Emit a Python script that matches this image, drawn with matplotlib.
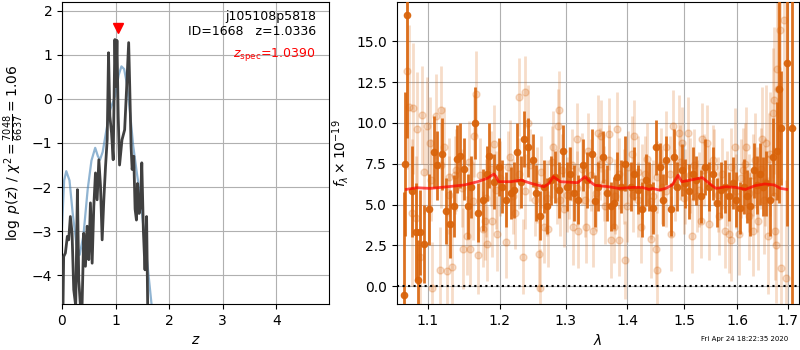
import matplotlib
matplotlib.use("Agg")
import matplotlib.pyplot as plt
from matplotlib.ticker import NullLocator, NullFormatter

# --- p(z) panel ---
z_pz = [0.019, 0.031, 0.063, 0.100, 0.125, 0.156, 0.188, 0.219, 0.256, 0.288, 0.313, 0.344,
        0.375, 0.406, 0.438, 0.469, 0.500, 0.531, 0.563, 0.594, 0.625, 0.656, 0.688, 0.719,
        0.750, 0.781, 0.813, 0.844, 0.869, 0.894, 0.925, 0.956, 0.988, 1.006, 1.026, 1.050,
        1.075, 1.120, 1.170, 1.205, 1.245, 1.265, 1.290, 1.310, 1.340, 1.365, 1.390, 1.410,
        1.440, 1.465, 1.490, 1.520, 1.550, 1.580, 1.600]
logp = [-4.70, -3.58, -3.50, -3.12, -3.20, -2.67, -3.05, -4.33, -4.70, -2.06, -4.11, -4.70,
        -4.70, -3.05, -3.80, -2.89, -3.65, -2.36, -3.73, -2.44, -1.68, -2.29, -1.38, -1.98,
        -3.20, -2.29, -1.53, -0.92, 1.05, -0.39, -0.77, -1.38, 1.35, 0.29, 1.33, -0.40,
        -1.50, -0.93, -0.70, 0.20, 1.28, 0.28, -1.08, -1.60, -1.30, -2.50, -2.75, -1.92,
        -2.60, -2.45, -1.45, -3.00, -3.88, -2.67, -4.70]

z_prior = [0.0, 0.04, 0.08, 0.14, 0.20, 0.27, 0.33, 0.40, 0.48, 0.55, 0.62, 0.67, 0.71,
           0.76, 0.83, 0.90, 0.99, 1.06, 1.11, 1.16, 1.21, 1.27, 1.33, 1.40, 1.46, 1.52,
           1.58, 1.67]
logp_prior = [-2.90, -1.85, -1.64, -1.85, -2.60, -3.30, -3.54, -3.10, -2.05, -1.40, -1.11,
              -1.30, -1.38, -1.20, -0.70, -0.24, 0.06, 0.55, 0.74, 0.68, 0.36, -0.30, -1.07,
              -1.70, -2.20, -2.90, -3.57, -4.64]

z_spec = 1.039

# --- spectrum panel: dark points ---
wave = [1.0684, 1.0700, 1.0729, 1.0796, 1.0840, 1.0876, 1.0898, 1.0956, 1.1014, 1.1088,
        1.1126, 1.1195, 1.1242, 1.1302, 1.1349, 1.1395, 1.1442, 1.1498, 1.1544, 1.1591,
        1.1647, 1.1693, 1.1753, 1.1823, 1.1847, 1.1916, 1.1986, 1.2035, 1.2085, 1.2161,
        1.2211, 1.2261, 1.2312, 1.2362, 1.2412, 1.2487, 1.2538, 1.2603, 1.2663, 1.2714,
        1.2764, 1.2824, 1.2889, 1.2955, 1.3017, 1.3062, 1.3129, 1.3197, 1.3270, 1.3343,
        1.3410, 1.3466, 1.3522, 1.3590, 1.3663, 1.3736, 1.3775, 1.3837, 1.3904, 1.3972,
        1.4058, 1.4116, 1.4192, 1.4250, 1.4320, 1.4378, 1.4448, 1.4506, 1.4564, 1.4622,
        1.4669, 1.4756, 1.4814, 1.4872, 1.4959, 1.5019, 1.5082, 1.5158, 1.5222, 1.5304,
        1.5386, 1.5462, 1.5525, 1.5601, 1.5684, 1.5766, 1.5842, 1.5905, 1.5968, 1.6044,
        1.6127, 1.6190, 1.6253, 1.6316, 1.6380, 1.6443, 1.6506, 1.6570, 1.6633, 1.6696,
        1.6778, 1.6816, 1.6867, 1.6994, 1.7097]
flux = [-0.55, 7.5, 16.6, 5.8, 3.3, 0.4, 3.3, 2.6, 4.7, 8.2,
        7.4, 8.1, 4.6, 3.8, 4.9, 7.8, 8.0, 7.2, 4.9, 6.1,
        10.0, 4.5, 5.3, 6.9, 8.0, 6.4, 7.3, 6.1, 5.3, 5.7,
        5.9, 8.2, 6.4, 9.0, 8.5, 7.7, 5.7, 4.3, 6.1, 4.9,
        6.5, 6.7, 5.9, 8.3, 6.1, 6.9, 5.7, 5.3, 7.4, 6.5,
        8.1, 5.2, 6.1, 7.9, 5.7, 4.9, 5.1, 6.7, 6.1, 7.5,
        6.1, 6.9, 5.9, 4.7, 6.5, 6.1, 4.8, 8.5, 7.3, 5.3,
        7.7, 4.7, 7.9, 6.1, 7.1, 6.3, 5.8, 6.9, 6.5, 5.5,
        7.3, 6.1, 6.9, 5.1, 5.9, 6.1, 5.5, 6.3, 5.3, 4.8,
        6.1, 5.5, 4.9, 7.1, 6.2, 6.9, 6.1, 6.3, 5.3, 7.9,
        8.3, 12.1, 9.7, 13.7, 9.7]
err = [6.3, 4.4, 7.5, 2.8, 3.0, 2.4, 2.6, 2.4, 2.2, 2.2,
       2.1, 2.2, 2.0, 2.1, 1.9, 2.1, 2.0, 1.9, 2.0, 1.9,
       2.2, 1.8, 1.9, 1.7, 2.0, 1.7, 1.8, 1.6, 1.7, 1.6,
       1.7, 1.8, 1.6, 1.7, 1.8, 1.6, 1.7, 1.5, 1.6, 1.7,
       1.5, 1.6, 1.7, 1.6, 1.5, 1.6, 1.7, 1.5, 1.6, 1.7,
       1.5, 1.6, 1.5, 1.6, 1.7, 1.5, 1.6, 1.5, 1.6, 1.7,
       1.5, 1.6, 1.5, 1.7, 1.6, 1.5, 1.6, 1.7, 1.5, 1.6,
       1.5, 1.6, 1.7, 1.5, 1.6, 1.5, 1.7, 1.6, 1.5, 1.6,
       1.7, 1.5, 1.6, 1.5, 1.7, 1.6, 1.5, 1.6, 1.7, 1.6,
       1.7, 1.6, 1.8, 1.7, 1.8, 1.9, 1.8, 2.0, 2.2, 2.4,
       3.0, 7.0, 3.5, 10.0, 14.0]

# --- spectrum panel: faint points ---
wave_l = [1.0729, 1.0751, 1.0796, 1.0809, 1.0844, 1.0862, 1.0898, 1.0929, 1.0987, 1.1033,
          1.1060, 1.1116, 1.1158, 1.1172, 1.1219, 1.1265, 1.1288, 1.1321, 1.1367, 1.1474,
          1.1535, 1.1581, 1.1637, 1.1656, 1.1684, 1.1758, 1.1786, 1.1823, 1.1888, 1.1916,
          1.1963, 1.2090, 1.2151, 1.2221, 1.2286, 1.2337, 1.2372, 1.2412, 1.2523, 1.2588,
          1.2603, 1.2663, 1.2724, 1.2804, 1.2879, 1.2889, 1.2915, 1.2975, 1.3045, 1.3112,
          1.3174, 1.3197, 1.3326, 1.3354, 1.3438, 1.3511, 1.3567, 1.3635, 1.3691, 1.3736,
          1.3775, 1.3837, 1.3871, 1.3972, 1.4000, 1.4087, 1.4116, 1.4192, 1.4233, 1.4308,
          1.4407, 1.4448, 1.4494, 1.4523, 1.4610, 1.4669, 1.4756, 1.4797, 1.4901, 1.4959,
          1.5019, 1.5070, 1.5146, 1.5241, 1.5304, 1.5335, 1.5430, 1.5462, 1.5557, 1.5652,
          1.5766, 1.5842, 1.5873, 1.5956, 1.6032, 1.6108, 1.6158, 1.6222, 1.6297, 1.6348,
          1.6411, 1.6487, 1.6525, 1.6570, 1.6601, 1.6652, 1.6703, 1.6728, 1.6778, 1.6804,
          1.6854, 1.6867, 1.6918, 1.6968, 1.6760, 1.6740,
          1.095, 1.104, 1.118, 1.128, 1.138, 1.146, 1.156, 1.162, 1.172, 1.180,
          1.188, 1.194, 1.201, 1.212, 1.219, 1.228, 1.238, 1.245, 1.256, 1.262,
          1.270, 1.278, 1.286, 1.294, 1.302, 1.310, 1.318, 1.325, 1.331, 1.340,
          1.348, 1.355, 1.362, 1.370, 1.379, 1.386, 1.394, 1.402, 1.410, 1.418,
          1.426, 1.434, 1.441, 1.452, 1.459, 1.468, 1.474, 1.483, 1.492, 1.499,
          1.510, 1.518, 1.527, 1.536, 1.545, 1.553, 1.562, 1.571, 1.580, 1.588,
          1.597, 1.606, 1.614, 1.622, 1.630, 1.639, 1.646, 1.655, 1.663, 1.672]
flux_l = [13.2, 11.0, 4.5, 10.9, 4.2, 9.6, 1.8, 10.5, 9.8, 8.8,
          -0.1, 10.4, 1.0, 10.8, 8.5, 0.9, 6.7, 1.2, 6.8, 2.3,
          3.1, 2.3, 9.2, 11.8, 1.9, 3.5, 4.0, 2.6, 4.0, 8.7,
          3.2, 2.7, 7.9, 4.5, 11.6, 1.8, 11.9, 10.0, 5.3, 2.0,
          -0.1, 3.6, 3.5, 8.5, 9.8, 10.8, 5.3, 4.7, 6.3, 3.6,
          9.0, 3.4, 3.6, 8.3, 3.4, 9.4, 9.2, 4.9, 9.3, 2.8,
          3.6, 9.6, 2.8, 1.6, 4.9, 8.1, 9.2, 5.3, 3.6, 6.9,
          2.9, 5.5, 2.3, 1.0, 6.1, 8.5, 3.2, 9.8, 9.4, 8.8,
          6.1, 9.4, 3.1, 5.5, 4.0, 9.0, 8.8, 3.8, 7.3, 4.3,
          3.4, 3.2, 2.8, 8.5, 3.2, 7.1, 8.5, 4.3, 3.4, 7.7,
          4.0, 9.0, 5.3, 8.8, 3.1, 8.1, 10.6, 11.4, 13.3, 12.1,
          15.7, 1.1, 16.3, 0.5, 2.5, 3.4,
          7.0, 6.5, 7.4, 5.6, 7.1, 6.0, 7.6, 5.2, 6.8, 5.4,
          7.2, 5.9, 6.6, 7.3, 5.5, 6.9, 5.8, 7.4, 6.2, 7.0,
          5.4, 7.6, 6.1, 7.1, 5.6, 7.4, 6.0, 7.2, 5.3, 6.8,
          5.7, 7.5, 6.3, 7.7, 5.5, 6.9, 6.1, 7.3, 5.6, 7.0,
          6.4, 7.8, 5.2, 6.7, 7.4, 5.8, 6.9, 6.2, 7.6, 5.4,
          6.8, 7.4, 5.9, 7.1, 6.3, 7.7, 5.6, 6.9, 6.0, 7.3,
          5.8, 6.6, 7.5, 5.7, 6.8, 5.9, 7.2, 6.4, 7.8, 5.5]
err_l = [6.0, 5.0, 4.5, 4.0, 3.8, 3.5, 3.2, 3.0, 3.0, 2.8,
         2.8, 2.6, 2.6, 2.7, 2.5, 2.6, 2.4, 2.5, 2.4, 2.5,
         2.4, 2.3, 2.5, 2.6, 2.4, 2.3, 2.4, 2.3, 2.2, 2.4,
         2.3, 2.2, 2.3, 2.2, 2.4, 2.3, 2.2, 2.3, 2.2, 2.3,
         2.4, 2.2, 2.3, 2.2, 2.3, 2.4, 2.2, 2.3, 2.2, 2.3,
         2.2, 2.3, 2.2, 2.3, 2.2, 2.3, 2.2, 2.3, 2.2, 2.3,
         2.2, 2.3, 2.2, 2.4, 2.2, 2.3, 2.2, 2.3, 2.2, 2.3,
         2.4, 2.2, 2.3, 2.2, 2.3, 2.2, 2.3, 2.2, 2.3, 2.2,
         2.3, 2.2, 2.3, 2.2, 2.3, 2.2, 2.3, 2.2, 2.3, 2.4,
         2.3, 2.4, 2.5, 2.4, 2.5, 2.6, 2.5, 2.7, 2.8, 2.9,
         3.0, 3.2, 3.3, 3.5, 3.6, 3.8, 4.0, 4.5, 5.0, 5.5,
         6.0, 5.5, 6.5, 6.0, 3.5, 3.0,
         2.6, 2.5, 2.6, 2.4, 2.5, 2.4, 2.5, 2.4, 2.3, 2.4,
         2.3, 2.4, 2.3, 2.2, 2.3, 2.2, 2.3, 2.2, 2.3, 2.2,
         2.3, 2.2, 2.3, 2.2, 2.3, 2.2, 2.3, 2.2, 2.3, 2.2,
         2.3, 2.2, 2.3, 2.2, 2.3, 2.2, 2.3, 2.2, 2.3, 2.2,
         2.3, 2.2, 2.3, 2.2, 2.3, 2.2, 2.3, 2.2, 2.3, 2.2,
         2.3, 2.2, 2.3, 2.2, 2.3, 2.2, 2.3, 2.2, 2.3, 2.4,
         2.3, 2.4, 2.5, 2.4, 2.5, 2.6, 2.5, 2.7, 2.8, 3.0]

# --- best-fit model ---
wave_m = [1.0720, 1.0853, 1.1033, 1.1265, 1.1498, 1.1684, 1.1823, 1.1916, 1.1940, 1.1986,
          1.2161, 1.2312, 1.2462, 1.2663, 1.2739, 1.2804, 1.2915, 1.3185, 1.3309, 1.3354,
          1.3466, 1.3691, 1.3860, 1.4087, 1.4262, 1.4378, 1.4436, 1.4552, 1.4669, 1.4785,
          1.4890, 1.4959, 1.5114, 1.5335, 1.5462, 1.5589, 1.5778, 1.5968, 1.6158, 1.6348,
          1.6538, 1.6728, 1.6854, 1.6981]
flux_m = [5.93, 6.03, 5.99, 6.09, 6.20, 6.40, 6.61, 6.87, 6.75, 6.40,
          6.40, 6.50, 6.30, 6.09, 6.30, 6.71, 6.40, 6.34, 6.71, 6.50,
          6.18, 6.09, 5.99, 6.05, 6.05, 5.93, 5.99, 5.89, 5.99, 6.20,
          6.79, 6.40, 6.50, 6.65, 6.30, 5.99, 6.09, 6.05, 5.93, 6.16,
          6.26, 6.20, 5.99, 5.93]

lam_ticks = [1.1, 1.2, 1.3, 1.4, 1.5, 1.6, 1.7]
orange = '#d9630a'

fig = plt.figure(figsize=(8, 3.5), dpi=100)
ax1 = fig.add_axes([0.0775, 0.131, 0.334, 0.863])
ax2 = fig.add_axes([0.496, 0.131, 0.5025, 0.863])

# p(z)
ax1.plot(z_prior, logp_prior, color='steelblue', alpha=0.6, lw=1.6, zorder=2)
ax1.plot(z_pz, logp, color='0.25', lw=2, zorder=3)
ax1.plot([z_spec], [1.61], marker='v', color='r', ms=7, ls='none', zorder=4)
ax1.text(0.95, 0.975, "j105108p5818\nID=1668   z=1.0336", transform=ax1.transAxes,
         ha='right', va='top', fontsize=9, linespacing=1.25)
ax1.text(0.95, 0.828, r'$z_\mathrm{spec}$=1.0390', transform=ax1.transAxes,
         ha='right', va='center', fontsize=9, color='r')
ax1.set_xlim(0, 4.99)
ax1.set_ylim(-4.66, 2.2)
ax1.set_xticks([0, 1, 2, 3, 4])
ax1.set_yticks([-4, -3, -2, -1, 0, 1, 2])
ax1.set_xlabel(r'$z$')
ax1.set_ylabel(r'$\log\ p(z)$ / $\chi^2=\frac{7048}{6637}=1.06$')
ax1.grid()

# spectrum
ax2.errorbar(wave_l, flux_l, yerr=err_l, fmt='o', color=orange, alpha=0.22, ms=5,
             elinewidth=2, capsize=0, zorder=2)
ax2.errorbar(wave, flux, yerr=err, fmt='o', color=orange, alpha=0.9, ms=4.5,
             elinewidth=2, capsize=0, zorder=3)
ax2.plot(wave_m, flux_m, color='r', alpha=0.7, lw=2, zorder=4)
ax2.axhline(0, color='k', ls=':', lw=1.5, zorder=5)
ax2.set_xscale('log')
ax2.set_xlim(1.0595, 1.7233)
ax2.set_ylim(-1.1, 17.4)
ax2.set_xticks(lam_ticks)
ax2.set_xticklabels([str(t) for t in lam_ticks])
ax2.xaxis.set_minor_locator(NullLocator())
ax2.xaxis.set_minor_formatter(NullFormatter())
ax2.set_yticks([0, 2.5, 5, 7.5, 10, 12.5, 15])
ax2.set_yticklabels(['0.0', '2.5', '5.0', '7.5', '10.0', '12.5', '15.0'])
ax2.set_xlabel(r'$\lambda$')
ax2.set_ylabel(r'$f_\lambda\times10^{-19}$')
ax2.grid()

fig.text(0.985, 0.03, 'Fri Apr 24 18:22:35 2020', ha='right', va='center', fontsize=5)

fig.savefig('out.png', dpi=100)
